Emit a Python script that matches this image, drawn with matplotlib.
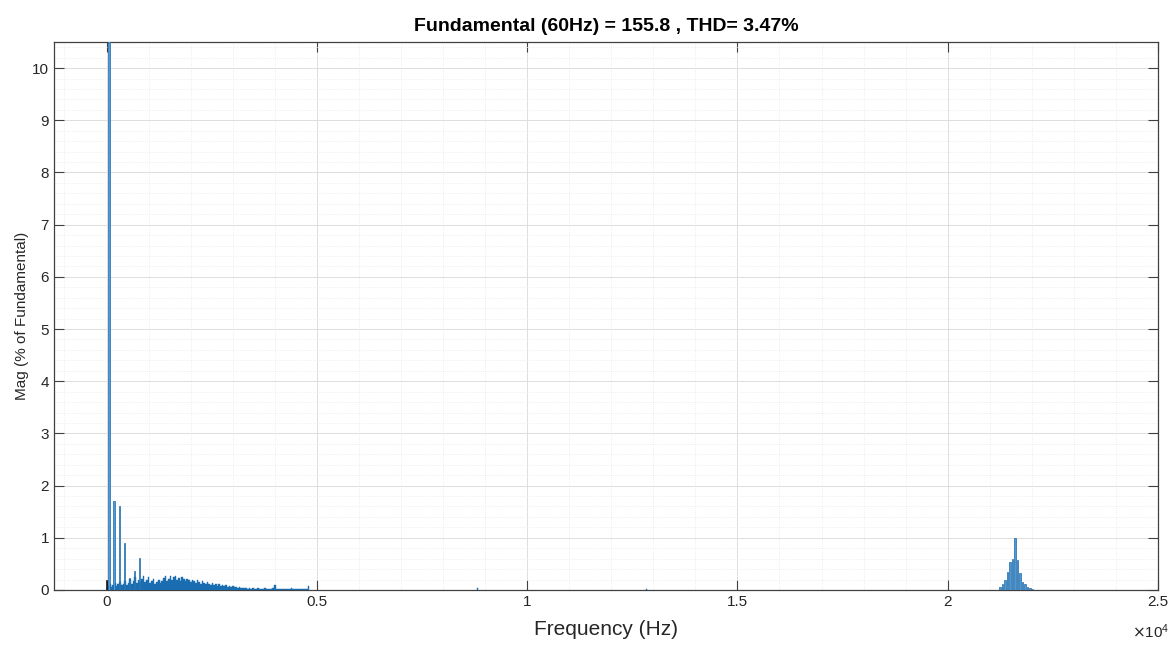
import numpy as np
import matplotlib
matplotlib.use('Agg')
import matplotlib.pyplot as plt
from matplotlib.ticker import MultipleLocator, FuncFormatter

plt.rcParams['font.family'] = ['Liberation Sans', 'DejaVu Sans']

# ---- data (Hz, % of fundamental) ----
title_txt = 'Fundamental (60Hz) = 155.8 , THD= 3.47%'

dc_freq = [0]
dc_mag = [0.20]

harm_freq = [60, 180, 300, 420, 540, 660, 780]
harm_mag = [100.0, 1.71, 1.61, 0.90, 0.23, 0.37, 0.61]

# broadband floor, 40 Hz bins from 40 Hz to 4800 Hz
floor_freq = list(range(40, 4801, 40))
floor_mag = [
    0.08, 0.12, 0.06, 0.10, 0.14, 0.07, 0.11, 0.16, 0.09, 0.12,
    0.18, 0.10, 0.14, 0.22, 0.12, 0.17, 0.24, 0.13, 0.19, 0.15,
    0.21, 0.27, 0.16, 0.20, 0.25, 0.14, 0.18, 0.22, 0.12, 0.15,
    0.19, 0.13, 0.17, 0.23, 0.26, 0.18, 0.21, 0.27, 0.19, 0.24,
    0.26, 0.20, 0.23, 0.18, 0.25, 0.21, 0.17, 0.22, 0.19, 0.16,
    0.20, 0.17, 0.14, 0.19, 0.15, 0.12, 0.17, 0.13, 0.11, 0.15,
    0.12, 0.10, 0.13, 0.09, 0.12, 0.08, 0.11, 0.07, 0.10, 0.08,
    0.09, 0.06, 0.08, 0.05, 0.07, 0.05, 0.06, 0.04, 0.05, 0.03,
    0.04, 0.03, 0.04, 0.02, 0.03, 0.02, 0.03, 0.02, 0.02, 0.03,
    0.02, 0.01, 0.02, 0.03, 0.02, 0.01, 0.02, 0.02, 0.03, 0.10,
    0.02, 0.01, 0.02, 0.01, 0.02, 0.01, 0.01, 0.02, 0.01, 0.04,
    0.01, 0.02, 0.01, 0.01, 0.02, 0.01, 0.01, 0.01, 0.02, 0.07,
]

# stray bins
stray_freq = [8820, 12840]
stray_mag = [0.03, 0.02]

# switching sidebands round 21.6 kHz
sw_freq = [21240, 21300, 21360, 21420, 21480, 21540, 21600,
           21660, 21720, 21780, 21840, 21900, 21960, 22020]
sw_mag = [0.06, 0.11, 0.19, 0.35, 0.54, 0.59, 1.00,
          0.57, 0.32, 0.16, 0.11, 0.06, 0.04, 0.02]

xticks = [0, 5000, 10000, 15000, 20000, 25000]
xtick_labels = ['0', '0.5', '1', '1.5', '2', '2.5']

fig = plt.figure(figsize=(11.76, 6.46), dpi=100)
ax = fig.add_axes([0.0459, 0.0867, 0.9388, 0.8483])

face = '#4c9ad6'
edge = '#1f6aa8'
ax.bar(floor_freq, floor_mag, width=40, color='#1a6db0', edgecolor='#1a6db0',
       linewidth=0.3, zorder=3)
ax.bar(stray_freq, stray_mag, width=40, color='#1a6db0', edgecolor='#1a6db0',
       linewidth=0.3, zorder=3)
ax.bar(harm_freq, harm_mag, width=30, color=face, edgecolor=edge,
       linewidth=0.5, zorder=4)
ax.bar(sw_freq, sw_mag, width=36, color=face, edgecolor=edge,
       linewidth=0.5, zorder=4)
ax.bar(dc_freq, dc_mag, width=24, color='#1a1a1a', edgecolor='#1a1a1a',
       linewidth=0.5, zorder=4)

ax.set_xlim(-1250, 25000)
ax.set_ylim(0, 10.5)
ax.set_xticks(xticks)
ax.xaxis.set_major_formatter(FuncFormatter(lambda v, p: xtick_labels[xticks.index(int(round(v)))] if int(round(v)) in xticks else ''))
ax.yaxis.set_major_locator(MultipleLocator(1))
ax.xaxis.set_minor_locator(MultipleLocator(1000))
ax.yaxis.set_minor_locator(MultipleLocator(0.2))

ax.grid(which='major', color='#dedede', linewidth=0.7, zorder=0)
ax.grid(which='minor', color='#e8e8e8', linewidth=0.6, linestyle=':', zorder=0)
ax.set_axisbelow(True)

ax.tick_params(which='major', direction='in', length=7, width=0.8, top=True,
               right=True, colors='#404040', labelsize=11, labelcolor='#262626')
ax.tick_params(which='minor', length=0)
for s in ax.spines.values():
    s.set_color('#404040')
    s.set_linewidth(0.9)

ax.set_title(title_txt, fontsize=14, fontweight='bold', pad=8)
ax.set_xlabel('Frequency (Hz)', fontsize=15, color='#262626', labelpad=8)
ax.set_ylabel('Mag (% of Fundamental)', fontsize=11, color='#262626', labelpad=2)
ax.text(0.993, -0.077, r'$\times\mathregular{10^{4}}$', transform=ax.transAxes,
        ha='center', va='center', fontsize=11, color='#262626')

fig.savefig('out.png', dpi=100, facecolor='white')
